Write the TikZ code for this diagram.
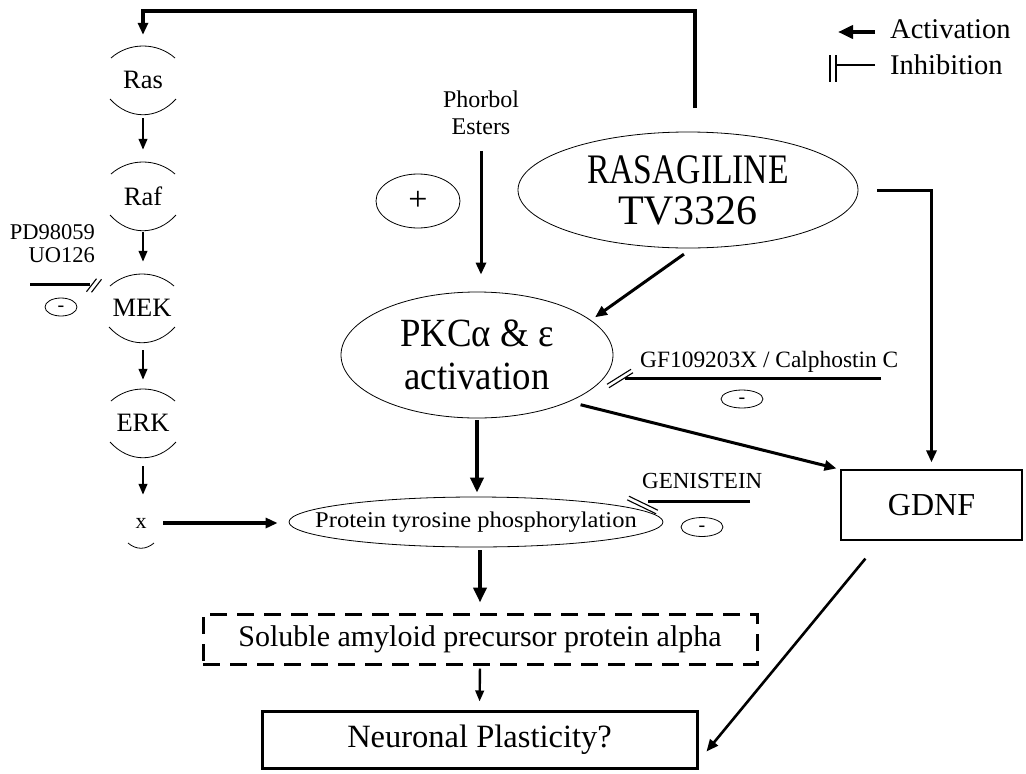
\documentclass[tikz,border=0pt]{standalone}
\usepackage{fontspec}
\setmainfont{Liberation Serif}
\usetikzlibrary{shapes.geometric,arrows.meta,calc}
\newcommand\hs[2]{\makebox[0pt][c]{\scalebox{#1}[1]{#2}}}
\newcommand\fsz[2]{\fontsize{#1}{#2}\selectfont}
\begin{document}
\begin{tikzpicture}[x=1pt,y=-1pt,
  arr/.style={line width=3pt,-{Triangle[length=12pt,width=10pt]}},
  karr/.style={line width=2.4pt,-{Triangle[length=11pt,width=8.5pt]}},
  tarr/.style={line width=4pt,-{Triangle[length=15pt,width=13pt]}},
  ell/.style={ellipse,draw,line width=0.8pt,inner sep=0pt},
  minus/.style={ellipse,draw,line width=0.8pt,inner sep=0pt,font=\fsz{20}{24},text height=9.2pt,text depth=0pt},
  kin/.style={inner sep=0pt,minimum height=70pt,font=\fsz{26.5}{30}},
  arcl/.style={line width=0.8pt},
  inh/.style={line width=3pt},
  dbl/.style={line width=1.1pt},
  lbl/.style={inner sep=0pt}]
\useasboundingbox (0,0) rectangle (1026,774);

% ---- left kinase cascade
\node[kin] (ras) at (143,80) {Ras};
\node[kin] (raf) at (143,196) {Raf};
\node[kin] (mek) at (142,308) {MEK};
\node[kin] (erk) at (143,423) {ERK};
\node[inner sep=0pt,minimum height=56pt,font=\fsz{22}{26}] (xn) at (141,523) {x};
\foreach \n in {ras,raf,mek,erk}{
  \draw[arcl] ([shift={(-32,-22)}]\n.center) .. controls ([shift={(-14,-38)}]\n.center) and ([shift={(14,-38)}]\n.center) .. ([shift={(32,-22)}]\n.center);
  \draw[arcl] ([shift={(-33,19)}]\n.center) .. controls ([shift={(-14,40)}]\n.center) and ([shift={(14,40)}]\n.center) .. ([shift={(33,19)}]\n.center);
}
\draw[arcl] ([shift={(-13,20)}]xn.center) .. controls ([shift={(-5,27)}]xn.center) and ([shift={(5,27)}]xn.center) .. ([shift={(13,20)}]xn.center);

\draw[karr,shorten <=3pt,shorten >=11pt] (ras.south) -- (raf.north);
\draw[karr,shorten <=1pt,shorten >=11pt] (raf.south) -- (raf.south |- mek.north);
\draw[karr,shorten <=7pt,shorten >=8pt] (erk.north |- mek.south) -- (erk.north);
\draw[karr,shorten <=8pt,shorten >=0pt] (erk.south) -- (erk.south |- xn.north);

% ---- PD98059 inhibition
\node[lbl,anchor=east,align=right,font=\fsz{22.5}{23}] (pd) at (95,244) {PD98059\\UO126};
\coordinate (pd0) at (30,284);
\draw[inh,shorten >=22pt] (pd0) -- (pd0 -| mek.west);
\draw[dbl] (86.5,291.7) -- (96.5,278.7);
\draw[dbl] (91.5,292.3) -- (101.5,279.3);
\node[minus,minimum width=32pt,minimum height=18pt] (m1) at (61,307) {-};

% ---- feedback line to Ras
\coordinate (fb0) at (695,108);
\coordinate (fb1) at (143,11);
\draw[arr,line width=3.5pt,shorten >=10pt] (fb0) |- (fb1) -- (ras.north);

% ---- main nodes
\node[ell,minimum width=340pt,minimum height=116pt,align=center,font=\fsz{42}{41}] (rasa) at (688,190) {\hs{0.8}{RASAGILINE}\\\hs{1.0}{TV3326}};
\node[ell,minimum width=272pt,minimum height=126pt,align=center,font=\fsz{40}{43}] (pkc) at (477,355) {\hs{0.92}{PKCα \& ε}\\\hs{0.92}{activation}};
\node[ell,minimum width=84pt,minimum height=54pt,font=\fsz{34}{40}] (plus) at (418,201) {+};
\node[lbl,align=center,font=\fsz{24}{27}] (pho) at (481,112.7) {Phorbol\\Esters};
\node[ell,minimum width=374pt,minimum height=50pt,font=\fsz{22.5}{26}] (prot) at (476,522) {\hs{1.09}{Protein tyrosine phosphorylation}};
\node[draw,rectangle,line width=3pt,dash pattern=on 17pt off 10pt,minimum width=554pt,minimum height=50pt,inner sep=0pt,font=\fsz{30}{36}] (sol) at (480,639) {Soluble amyloid precursor protein alpha};
\node[draw,rectangle,line width=3pt,minimum width=435pt,minimum height=57pt,inner sep=0pt,font=\fsz{32.5}{38}] (neu) at (479.5,739.5) {Neuronal Plasticity?};
\node[draw,rectangle,line width=1.2pt,minimum width=181pt,minimum height=70pt,inner sep=0pt,font=\fsz{32}{38}] (gdnf) at (931.5,505) {GDNF};

% ---- GF / Calphostin inhibition
\node[lbl,anchor=base west,font=\fsz{23.4}{29}] (gf) at (640,367) {GF109203X / Calphostin C};
\coordinate (gf1) at (881,378);
\draw[inh,shorten >=12pt] (gf1) -- (gf1 -| pkc.east);
\draw[dbl] (607,384.3) -- (631,369.3);
\draw[dbl] (609,387.7) -- (633,372.7);
\node[minus,minimum width=42pt,minimum height=18pt] (m2) at (742,399) {-};

% ---- Genistein inhibition
\node[lbl,anchor=base west,font=\fsz{23}{27}] (gen) at (642,488) {GENISTEIN};
\coordinate (ge0) at (648,501);
\coordinate (ge1) at (750,501);
\draw[inh] (ge1) -- (ge0);
\draw[dbl] (628.9,496.2) -- (657.9,510.2);
\draw[dbl] (627.1,499.8) -- (656.1,513.8);
\node[minus,minimum width=42pt,minimum height=19pt] (m3) at (702,527) {-};

% ---- activation connectors
\draw[arr,shorten <=16pt,shorten >=17pt] (pho.south) -- (pho.south |- pkc.north);
\draw[arr,shorten <=10pt,shorten >=5pt] (rasa.-86) -- (pkc.17);
\draw[arr,shorten <=19pt,shorten >=7pt] (rasa.east) -| (gdnf.north);
\draw[arr,shorten <=12pt,shorten >=4pt] (pkc.-27) -- (gdnf.north west);
\draw[arr,line width=3.5pt,shorten <=16.5pt,shorten >=11pt] (xn.east) -- (xn.east -| prot.west);
\draw[tarr,shorten <=2pt,shorten >=4pt] (pkc.south) -- (pkc.south |- prot.north);
\draw[tarr,shorten <=3pt,shorten >=10pt] (sol.north |- prot.south) -- (sol.north);
\draw[karr,shorten <=3pt,shorten >=8pt] (sol.south) -- (neu.north);
\draw[arr,line width=2.6pt] ($(gdnf.south west)+(25,18)$) -- ($(neu.east)+(8,12)$);

% ---- legend
\node[lbl,anchor=base west,font=\fsz{28.5}{32}] (lact) at (890,38) {Activation};
\node[lbl,anchor=base west,font=\fsz{28.5}{32}] (linh) at (890,74) {Inhibition};
\coordinate (la1) at (875,32);
\coordinate (la2) at (838,32);
\draw[line width=4pt,-{Triangle[length=15pt,width=13pt]}] (la1) -- (la2);
\coordinate (li1) at (875,65);
\coordinate (li2) at (836,65);
\draw[line width=2.2pt] (li1) -- (li2);
\draw[line width=1.3pt] (830,55) -- (830,82);
\draw[line width=1.3pt] (836,55) -- (836,82);
\end{tikzpicture}
\end{document}
